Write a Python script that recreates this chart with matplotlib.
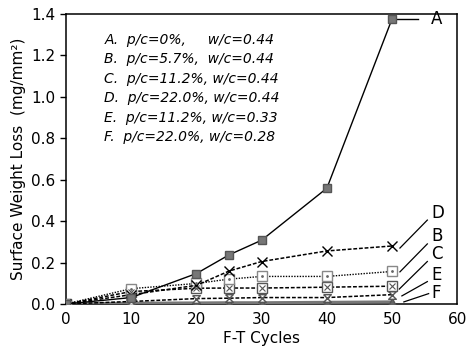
import matplotlib
matplotlib.use("Agg")
from matplotlib import pyplot as plt

plt.rcParams['font.family'] = ['DejaVu Sans']

cycles = [0, 10, 20, 25, 30, 40, 50]

loss_a = [0.0, 0.031, 0.147, 0.237, 0.308, 0.559, 1.377]
loss_b = [0.0, 0.074, 0.099, 0.120, 0.133, 0.133, 0.157]
loss_c = [0.0, 0.060, 0.076, 0.077, 0.077, 0.081, 0.086]
loss_d = [0.0, 0.045, 0.090, 0.159, 0.205, 0.256, 0.280]
loss_e = [0.0, 0.012, 0.026, 0.028, 0.031, 0.031, 0.045]
loss_f = [0.0, 0.004, 0.005, 0.006, 0.006, 0.008, 0.010]

legend_lines = [
    "A.  p/c=0%,     w/c=0.44",
    "B.  p/c=5.7%,  w/c=0.44",
    "C.  p/c=11.2%, w/c=0.44",
    "D.  p/c=22.0%, w/c=0.44",
    "E.  p/c=11.2%, w/c=0.33",
    "F.  p/c=22.0%, w/c=0.28",
]

# end labels: letter, leader start, leader end, label y
end_labels = [
    ("D", (51.2, 0.270), (55.4, 0.405), 0.440),
    ("B", (51.2, 0.155), (55.4, 0.290), 0.330),
    ("C", (51.1, 0.072), (55.4, 0.205), 0.243),
    ("E", (51.5, 0.039), (55.4, 0.108), 0.140),
    ("F", (51.8, 0.010), (55.6, 0.050), 0.052),
]

hourglass = [(-1, 1), (1, 1), (-1, -1), (1, -1), (-1, 1)]

fig = plt.figure(figsize=(4.67, 3.49), dpi=100)
ax = fig.add_axes([0.1413, 0.129, 0.838, 0.831])

ax.plot(cycles, loss_f, color='#777777', lw=2.2, marker='^', ms=6,
        mfc='#666666', mec='#555555', zorder=3)
ax.plot(cycles, loss_e, color='black', lw=1.1, ls=(0, (2.5, 1.2)),
        marker=hourglass, ms=5.5, mfc='white', mec='#555555', zorder=4)
ax.plot(cycles, loss_c, color='black', lw=1.1, ls=(0, (2.5, 1.2)),
        marker='s', ms=6.5, mfc='white', mec='#555555', zorder=4)
ax.plot(cycles, loss_c, ls='none', marker='x', ms=4, mec='#555555', mew=0.8, zorder=5)
ax.plot(cycles, loss_b, color='black', lw=1.0, ls=(0, (1, 1)),
        marker='s', ms=6.5, mfc='white', mec='#888888', zorder=4)
ax.plot(cycles, loss_b, ls='none', marker='.', ms=2, mec='#666666', mfc='#666666', zorder=5)
ax.plot(cycles, loss_d, color='black', lw=1.1, ls=(0, (2.5, 1.2)),
        marker='x', ms=6.5, mec='black', mew=1.0, zorder=4)
ax.plot(cycles, loss_a, color='black', lw=1.0, marker='s', ms=6,
        mfc='#777777', mec='#555555', zorder=6)

# label for A
ax.plot([cycles[-1], 54.0], [loss_a[-1], loss_a[-1]], color='black', lw=1.0)
ax.text(55.9, loss_a[-1], "A", fontsize=12, va='center', ha='left')

for letter, start, end, label_y in end_labels:
    ax.plot([start[0], end[0]], [start[1], end[1]], color='black', lw=0.9)
    ax.text(56.0, label_y, letter, fontsize=12, va='center', ha='left')

for i, line in enumerate(legend_lines):
    ax.text(5.9, 1.275 - i * 0.094, line, fontsize=10, style='italic',
            va='center', ha='left')

ax.set_xlim(0, 60)
ax.set_ylim(0, 1.4)
ax.set_xticks(range(0, 61, 10))
ax.set_yticks([0.0, 0.2, 0.4, 0.6, 0.8, 1.0, 1.2, 1.4])
ax.set_yticklabels(["0.0", "0.2", "0.4", "0.6", "0.8", "1.0", "1.2", "1.4"])
ax.tick_params(axis='both', labelsize=11, length=4, width=1, direction='out')
ax.tick_params(axis='x', length=0, pad=6)
for side in ax.spines.values():
    side.set_linewidth(1.1)

ax.set_xlabel("F-T Cycles", fontsize=11, labelpad=3)
ax.set_ylabel("Surface Weight Loss  (mg/mm²)", fontsize=11, labelpad=4)

fig.savefig("out.png", dpi=100)
